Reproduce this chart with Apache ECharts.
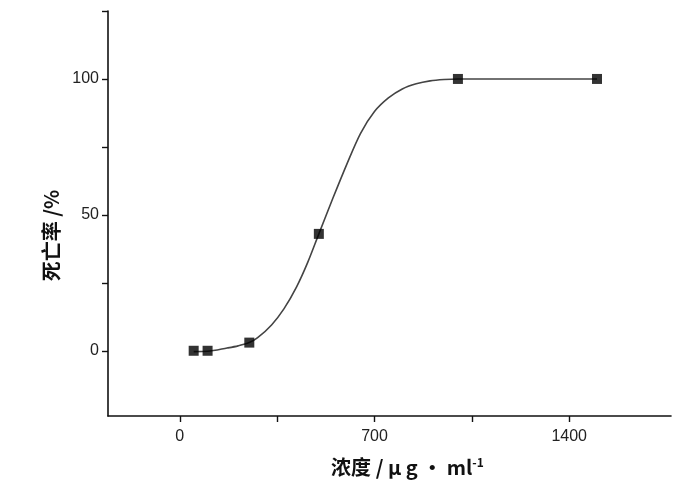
<!DOCTYPE html>
<html>
<head>
<meta charset="utf-8">
<script src="https://cdn.jsdelivr.net/npm/echarts@6/dist/echarts.min.js"></script>
<style>
  html, body { margin: 0; padding: 0; background: #fff; }
  #chart { width: 680px; height: 489px; }
</style>
</head>
<body>
<div id="chart"></div>
<script>
// 实测点
var doseX = [50, 100, 250, 500, 1000, 1500];
var deathY = [0, 0, 3, 43, 100, 100];
// 拟合曲线
var curveX = [50, 100, 170, 210, 250, 280, 330, 375, 420, 460, 500, 550, 600, 650, 700, 750, 800, 850, 900, 950, 1000, 1500];
var curveY = [-0.3, -0.2, 1.0, 1.8, 3, 4.8, 9.5, 15.5, 23.5, 32.5, 43, 56, 68.5, 80, 88, 93, 96.3, 98.2, 99.3, 99.8, 100, 100];
// 刻度
var xTicks = [0, 350, 700, 1050, 1400];
var xLabels = [0, 700, 1400];
var yTicks = [0, 25, 50, 75, 100, 125];
var yLabels = [0, 50, 100];

var pts = doseX.map(function (x, i) { return [x, deathY[i]]; });
var line = curveX.map(function (x, i) { return [x, curveY[i]]; });

var chart = echarts.init(document.getElementById('chart'));
var option = {
	backgroundColor: '#fff',
	animation: false,
	grid: {
		left: 108,
		right: 9,
		top: 11,
		bottom: 73
	},
	xAxis: {
		type: 'value',
		min: -258,
		max: 1766,
		name: '浓度 / μ g · ml{sup|-1}',
		nameLocation: 'middle',
		nameGap: 40,
		nameTextStyle: {
			fontFamily: 'Noto Sans CJK SC',
			fontWeight: 'bold',
			fontSize: 20,
			color: '#111',
			padding: [0, 0, 0, 36],
			rich: {
				sup: { fontSize: 12, fontWeight: 'bold', color: '#111', verticalAlign: 'top', padding: [0, 0, 10, 0] }
			}
		},
		splitLine: { show: false },
		axisLine: { onZero: false, lineStyle: { color: '#111', width: 1.6 } },
		axisTick: { customValues: xTicks, length: 6, lineStyle: { color: '#111', width: 1.4 } },
		axisLabel: {
			customValues: xLabels,
			formatter: function (v) { return String(v); },
			margin: 13,
			fontFamily: 'Liberation Sans',
			fontSize: 16,
			color: '#222'
		}
	},
	yAxis: {
		type: 'value',
		min: -24,
		max: 125,
		name: '死亡率 /%',
		nameLocation: 'middle',
		nameRotate: 90,
		nameGap: 46,
		nameTextStyle: {
			fontFamily: 'Noto Sans CJK SC',
			fontWeight: 'bold',
			fontSize: 20,
			color: '#111',
			padding: [0, 44, 0, 0]
		},
		splitLine: { show: false },
		axisLine: { onZero: false, lineStyle: { color: '#111', width: 1.6 } },
		axisTick: { customValues: yTicks, length: 6, lineStyle: { color: '#111', width: 1.4 } },
		axisLabel: {
			customValues: yLabels,
			formatter: function (v) { return String(v); },
			margin: 9,
			fontFamily: 'Liberation Sans',
			fontSize: 16,
			color: '#222'
		}
	},
	series: [
		{
			name: '拟合曲线',
			type: 'line',
			data: line,
			smooth: 0.3,
			showSymbol: false,
			lineStyle: { color: '#444', width: 1.6 },
			z: 2
		},
		{
			name: '死亡率',
			type: 'scatter',
			data: pts,
			symbol: 'rect',
			symbolSize: 10,
			itemStyle: { color: '#000' },
			z: 3
		}
	]
};
chart.setOption(option);
</script>
</body>
</html>
